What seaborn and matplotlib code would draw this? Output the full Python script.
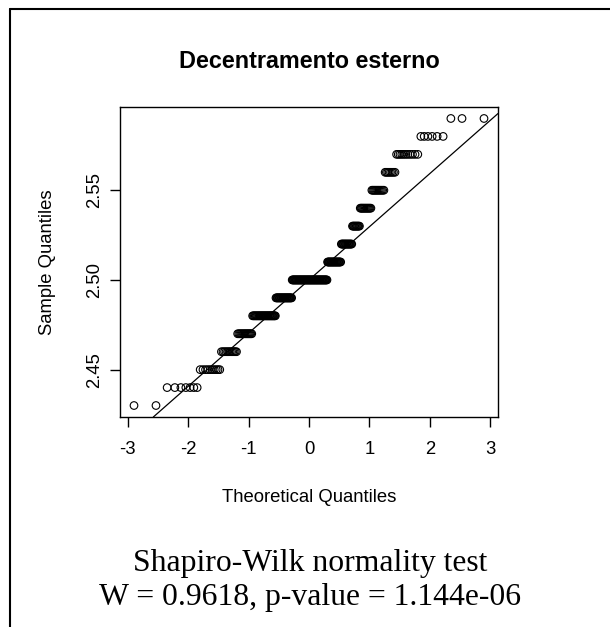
import numpy as np
import pandas as pd
import seaborn as sns
import matplotlib
matplotlib.use("Agg")
import matplotlib.pyplot as plt
from matplotlib.lines import Line2D
from statistics import NormalDist

# ---- data ----
levels = [2.43, 2.44, 2.45, 2.46, 2.47, 2.48, 2.49, 2.50, 2.51,
          2.52, 2.53, 2.54, 2.55, 2.56, 2.57, 2.58, 2.59]
counts = [2, 7, 10, 12, 15, 31, 26, 61, 22, 16, 10, 13, 12, 8, 11, 6, 3]
x_ticks = [-3, -2, -1, 0, 1, 2, 3]
y_ticks = [2.45, 2.50, 2.55]
y_tick_labels = ["2.45", "2.50", "2.55"]
title = "Decentramento esterno"
x_label = "Theoretical Quantiles"
y_label = "Sample Quantiles"
test_lines = ["Shapiro-Wilk normality test", "W = 0.9618, p-value = 1.144e-06"]

# ---- build QQ data ----
sample = np.sort(np.repeat(levels, counts))
n = len(sample)
nd = NormalDist()
p = (np.arange(1, n + 1) - 0.5) / n
theo = np.array([nd.inv_cdf(v) for v in p])
df = pd.DataFrame({"theo": theo, "sample": sample})

# qqline through quartiles
q1, q3 = np.quantile(sample, [0.25, 0.75])
t1, t3 = nd.inv_cdf(0.25), nd.inv_cdf(0.75)
slope = (q3 - q1) / (t3 - t1)
intercept = q1 - slope * t1

sns.set_theme(style="white")
plt.rcParams["font.family"] = ["Liberation Sans", "DejaVu Sans"]

W, H = 610, 627
fig = plt.figure(figsize=(W / 100, H / 100), dpi=100)
fig.patch.set_facecolor("white")
ax = fig.add_axes([120 / W, 1 - 417 / H, 378 / W, 310 / H])

sns.scatterplot(data=df, x="theo", y="sample", ax=ax, s=30, marker="o",
                linewidth=0.8, legend=False)
coll = ax.collections[0]
coll.set_facecolor("none")
coll.set_edgecolor("black")

ax.axline((0, intercept), slope=slope, color="black", linewidth=0.9)

xr = theo.max() - theo.min()
yr = sample.max() - sample.min()
ax.set_xlim(theo.min() - 0.04 * xr, theo.max() + 0.04 * xr)
ax.set_ylim(sample.min() - 0.04 * yr, sample.max() + 0.04 * yr)

fs = 13.3
ax.set_xticks(x_ticks)
ax.set_xticklabels([str(v) for v in x_ticks], fontsize=fs)
ax.set_yticks(y_ticks)
ax.set_yticklabels(y_tick_labels, rotation=90, va="center", fontsize=fs)
ax.tick_params(axis="x", direction="out", length=7, width=1, color="black",
               pad=10, labelcolor="black")
ax.tick_params(axis="y", direction="out", length=7, width=1, color="black",
               pad=5, labelcolor="black")
ax.tick_params(bottom=True, left=True)
for s in ax.spines.values():
    s.set_visible(True)
    s.set_color("black")
    s.set_linewidth(1.0)
ax.grid(False)
ax.set_facecolor("white")
ax.set_xlabel("")
ax.set_ylabel("")

fig.text(309.5 / W, 1 - 497 / H, x_label, ha="center", va="center",
         fontsize=fs, color="black")
fig.text(48 / W, 1 - 262 / H, y_label, ha="center", va="center",
         rotation=90, fontsize=fs, color="black")
fig.text(309.5 / W, 1 - 62 / H, title, ha="center", va="center",
         fontsize=16.8, fontweight="bold", color="black")
fig.text(310 / W, 1 - 563 / H, test_lines[0], ha="center", va="center",
         fontsize=22.8, family="Liberation Serif", color="black")
fig.text(310 / W, 1 - 598 / H, test_lines[1], ha="center", va="center",
         fontsize=22.8, family="Liberation Serif", color="black")

# outer frame (left and top edges visible)
fig.add_artist(Line2D([10 / W, 10 / W], [0, 1 - 9 / H], transform=fig.transFigure,
                      color="black", linewidth=1.5))
fig.add_artist(Line2D([10 / W, 1], [1 - 9 / H, 1 - 9 / H], transform=fig.transFigure,
                      color="black", linewidth=1.5))

fig.savefig("out.png", dpi=100)
